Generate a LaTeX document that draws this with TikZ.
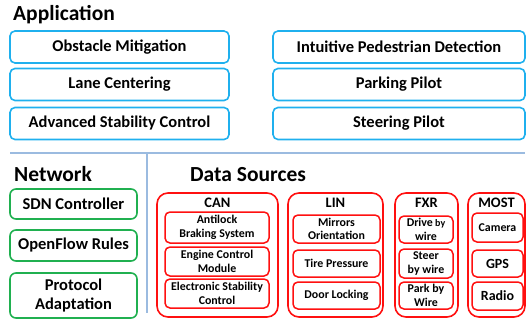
\documentclass[tikz,border=0pt]{standalone}
\usepackage{fontspec}
\setmainfont{Carlito}
\definecolor{appblue}{HTML}{1FB0EE}
\definecolor{netgreen}{HTML}{20B050}
\definecolor{dsred}{HTML}{FF1010}
\definecolor{divblue}{HTML}{9BBBE0}
\begin{document}
\begin{tikzpicture}[x=1pt,y=-1pt,
  title/.style={anchor=base west,inner sep=0pt,font=\fontsize{21.5}{23}\selectfont\bfseries},
  appbox/.style={draw=appblue,line width=1.6pt,rounded corners=5pt,inner sep=1pt,font=\fontsize{16.5}{18}\selectfont\bfseries},
  netbox/.style={draw=netgreen,line width=1.6pt,rounded corners=6pt,inner sep=1pt,align=center,font=\fontsize{16.5}{19}\selectfont\bfseries},
  outbox/.style={draw=dsred,line width=1.6pt,rounded corners=11pt,inner sep=0pt},
  inbox/.style={draw=dsred,line width=1.5pt,rounded corners=5pt,inner sep=0.5pt,align=center,font=\fontsize{11.9}{13.5}\selectfont\bfseries},
  grptitle/.style={anchor=base,inner sep=0pt,font=\fontsize{14.5}{16}\selectfont\bfseries},
  divider/.style={draw=divblue,line width=1.2pt}]
\useasboundingbox (0,0) rectangle (527,322);
% Application
\node[title] (apptitle) at (13,20) {Application};
\node[appbox,minimum width=219pt,minimum height=32pt] (om) at (119.5,47) {Obstacle Mitigation};
\node[appbox,minimum width=219pt,minimum height=32pt] (lc) at (119.5,84.5) {Lane Centering};
\node[appbox,minimum width=219pt,minimum height=32pt] (asc) at (119.5,123.5) {Advanced Stability Control};
\node[appbox,minimum width=252pt,minimum height=32pt] (ipd) at (399,47) {Intuitive Pedestrian Detection};
\node[appbox,minimum width=252pt,minimum height=32pt] (pp) at (399,84.5) {Parking Pilot};
\node[appbox,minimum width=252pt,minimum height=32pt] (sp) at (399,123.5) {Steering Pilot};
% dividers
\coordinate (h1) at (10,153);
\coordinate (h2) at (525,153);
\coordinate (v1) at (147,153);
\coordinate (v2) at (147,313);
\draw[divider] (h1) -- (h2);
\draw[divider] (v1) -- (v2);
% Network
\node[title] (nettitle) at (14,181) {Network};
\node[netbox,minimum width=127pt,minimum height=30pt] (sdn) at (73.5,204) {SDN Controller};
\node[netbox,minimum width=127pt,minimum height=31pt] (ofr) at (73.5,245.5) {OpenFlow Rules};
\node[netbox,minimum width=127pt,minimum height=45pt] (pa) at (73.5,295.5) {Protocol\\Adaptation};
% Data sources
\node[title] (dstitle) at (190,181) {Data Sources};
% CAN
\node[outbox,minimum width=121pt,minimum height=124pt] (can) at (217.5,255) {};
\node[grptitle] (cant) at (217.5,207.5) {CAN};
\node[inbox,minimum width=104pt,minimum height=31pt] (abs) at (217,227.5) {Antilock\\Braking System};
\node[inbox,minimum width=104pt,minimum height=29pt] (ecm) at (217,261.5) {Engine Control\\Module};
\node[inbox,minimum width=104pt,minimum height=29pt] (esc) at (217,293.5) {Electronic Stability\\Control};
% LIN
\node[outbox,minimum width=95pt,minimum height=124pt] (lin) at (335.5,255) {};
\node[grptitle] (lint) at (335.5,207.5) {LIN};
\node[inbox,minimum width=87pt,minimum height=28pt] (mo) at (336.5,229) {Mirrors\\Orientation};
\node[inbox,minimum width=87pt,minimum height=27pt] (tp) at (336.5,263.5) {Tire Pressure};
\node[inbox,minimum width=87pt,minimum height=27pt] (dl) at (336.5,295.5) {Door Locking};
% FXR
\node[outbox,minimum width=63pt,minimum height=124pt] (fxr) at (426.5,255) {};
\node[grptitle] (fxrt) at (426.5,207.5) {FXR};
\node[inbox,minimum width=54pt,minimum height=27pt] (dbw) at (426,229.5) {Drive{\fontsize{10}{12}\selectfont\ by}\\wire};
\node[inbox,minimum width=54pt,minimum height=29pt] (sbw) at (426,263.5) {Steer\\by wire};
\node[inbox,minimum width=54pt,minimum height=27pt] (pbw) at (426,295.5) {Park by\\Wire};
% MOST
\node[outbox,minimum width=57pt,minimum height=124pt] (most) at (496.5,255) {};
\node[grptitle] (mostt) at (496.5,207.5) {MOST};
\node[inbox,minimum width=51pt,minimum height=29pt] (cam) at (497.5,227.5) {Camera};
\node[inbox,minimum width=51pt,minimum height=27pt,font=\fontsize{14}{16}\selectfont\bfseries] (gps) at (497.5,263.5) {GPS};
\node[inbox,minimum width=51pt,minimum height=28pt,font=\fontsize{14}{16}\selectfont\bfseries] (radio) at (497.5,296) {Radio};
\end{tikzpicture}
\end{document}
